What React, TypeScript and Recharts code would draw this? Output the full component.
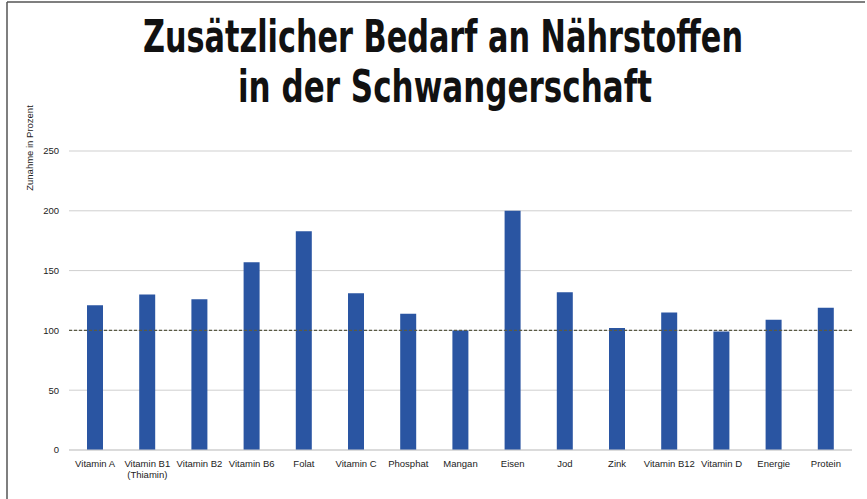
import React from 'react';
import { BarChart, Bar, XAxis, YAxis, CartesianGrid, ReferenceLine } from 'recharts';

// Zusätzlicher Bedarf in der Schwangerschaft, in Prozent
const nutrients = [
  'Vitamin A',
  'Vitamin B1 (Thiamin)',
  'Vitamin B2',
  'Vitamin B6',
  'Folat',
  'Vitamin C',
  'Phosphat',
  'Mangan',
  'Eisen',
  'Jod',
  'Zink',
  'Vitamin B12',
  'Vitamin D',
  'Energie',
  'Protein',
];
const increase = [121, 130, 126, 157, 183, 131, 114, 100, 200, 132, 102, 115, 99, 109, 119];
const yTicks = [0, 50, 100, 150, 200, 250];

const data = nutrients.map((name, i) => ({ name, value: increase[i] }));

const tickFont = '"Liberation Sans", Arial, sans-serif';

// category labels, the bracketed part goes on a second line
const CategoryTick = (props: any) => {
  const { x, y, payload } = props;
  const label: string = payload.value;
  const idx = label.indexOf(' (');
  const lines = idx > 0 ? [label.slice(0, idx), label.slice(idx + 1)] : [label];
  return (
    <text x={x} y={y} textAnchor="middle" fontSize={9.5} fill="#222" fontFamily={tickFont}>
      {lines.map((l, i) => (
        <tspan key={i} x={x} dy={i === 0 ? 9 : 11}>
          {l}
        </tspan>
      ))}
    </text>
  );
};

export default function App() {
  return (
    <div style={{ position: 'absolute', left: 0, top: 0, width: 867, height: 499, background: '#fff' }}>
      <BarChart
        width={867}
        height={499}
        data={data}
        margin={{ top: 151, right: 15, left: 3, bottom: 0 }}
      >
        <CartesianGrid vertical={false} stroke="#cfcfcf" />
        <XAxis
          dataKey="name"
          interval={0}
          tickLine={false}
          axisLine={{ stroke: '#cfcfcf' }}
          tick={<CategoryTick />}
          height={49}
        />
        <YAxis
          domain={[0, 250]}
          ticks={yTicks}
          width={66}
          tickLine={false}
          axisLine={false}
          tickSize={6}
          tickMargin={4}
          tick={{ fontSize: 9.5, fill: '#222', fontFamily: tickFont }}
        />
        <ReferenceLine y={100} stroke="#5a5a44" strokeWidth={1.2} strokeDasharray="3 2" />
        <Bar dataKey="value" fill="#2a55a2" barSize={16} isAnimationActive={false} />
      </BarChart>
      <svg
        width={867}
        height={499}
        style={{ position: 'absolute', left: 0, top: 0, pointerEvents: 'none' }}
      >
        <line x1={7} y1={2} x2={865} y2={2} stroke="#555" strokeWidth={1.5} />
        <line x1={7} y1={2} x2={7} y2={499} stroke="#555" strokeWidth={1.5} />
        <g fontFamily='"Liberation Sans Narrow", "DejaVu Sans Condensed", "Liberation Sans", sans-serif' fontWeight="bold" fontSize={44} fill="#111">
          <text x={143} y={52} textLength={600} lengthAdjust="spacingAndGlyphs">
            Zusätzlicher Bedarf an Nährstoffen
          </text>
          <text x={238} y={102} textLength={414} lengthAdjust="spacingAndGlyphs">
            in der Schwangerschaft
          </text>
        </g>
        <text
          x={33}
          y={148}
          transform="rotate(-90 33 148)"
          textAnchor="middle"
          fontSize={9.5}
          fill="#222"
          fontFamily={tickFont}
        >
          Zunahme in Prozent
        </text>
      </svg>
    </div>
  );
}
